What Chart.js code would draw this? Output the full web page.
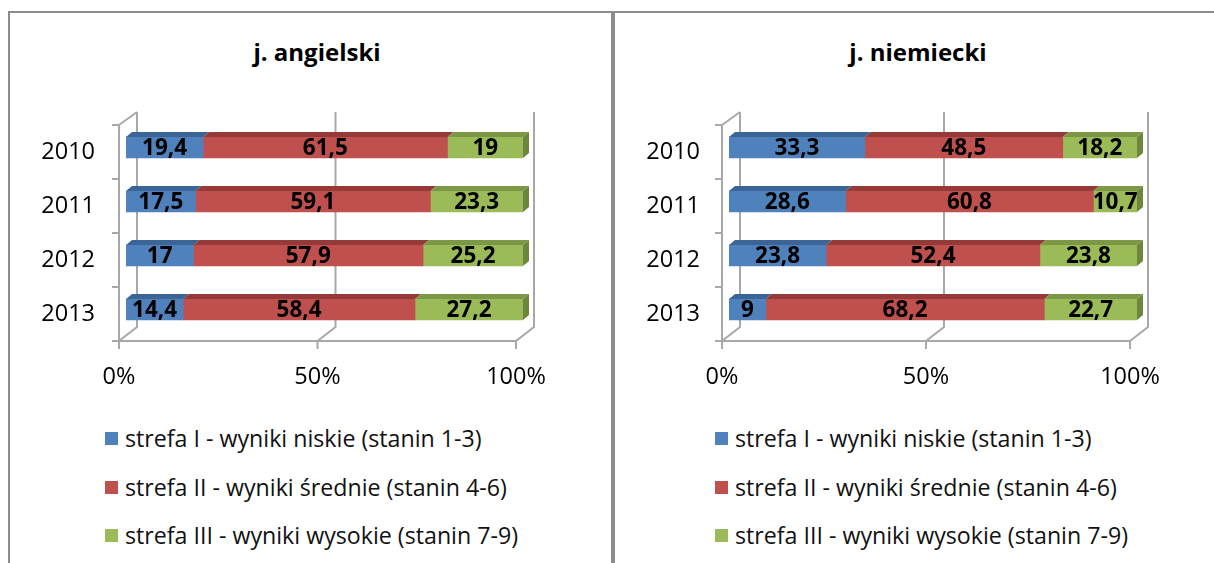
<!DOCTYPE html>
<html>
<head>
<meta charset="utf-8">
<script src="https://cdn.jsdelivr.net/npm/chart.js@4.4.1/dist/chart.umd.min.js"></script>
<style>
  body { margin: 0; background: #fff; width: 1214px; height: 563px; overflow: hidden; position: relative; font-family: "Open Sans", sans-serif; color: #000; }
  .frame { position: absolute; top: 11px; height: 600px; border-top: 2px solid #8c8c8c; border-left: 2px solid #8c8c8c; }
  #frame1 { left: 8px; width: 601px; border-right: 2px solid #8c8c8c; }
  #frame2 { left: 613px; width: 700px; }
  .title { position: absolute; top: 36px; font-weight: bold; font-size: 24px; line-height: 32px; transform: translateX(-50%); white-space: nowrap; }
  canvas { position: absolute; top: 70px; }
  .legend { position: absolute; top: 422px; }
  .legend div { height: 48.5px; display: flex; align-items: flex-start; font-size: 23.2px; line-height: 32px; white-space: nowrap; color: #111; }
  .legend span.box { display: inline-block; width: 13px; height: 13px; margin: 10px 7px 0 0; }
</style>
</head>
<body>
<div class="frame" id="frame1"></div>
<div class="frame" id="frame2"></div>
<div class="title" style="left:317px">j. angielski</div>
<div class="title" style="left:918px">j. niemiecki</div>
<canvas id="c1" width="595" height="330" style="left:11px"></canvas>
<canvas id="c2" width="595" height="330" style="left:615px"></canvas>
<div class="legend" id="leg1" style="left:105px"></div>
<div class="legend" id="leg2" style="left:715px"></div>
<script>
const years = ['2010', '2011', '2012', '2013'];
const seriesNames = [
  'strefa I - wyniki niskie (stanin 1-3)',
  'strefa II - wyniki średnie (stanin 4-6)',
  'strefa III - wyniki wysokie (stanin 7-9)'
];
// j. angielski
const engLow = [19.4, 17.5, 17, 14.4];
const engMid = [61.5, 59.1, 57.9, 58.4];
const engHigh = [19, 23.3, 25.2, 27.2];
// j. niemiecki
const gerLow = [33.3, 28.6, 23.8, 9];
const gerMid = [48.5, 60.8, 52.4, 68.2];
const gerHigh = [18.2, 10.7, 23.8, 22.7];
const xTicks = [0, 50, 100];

const frontColors = ['#4f81bd', '#c0504d', '#9bbb59'];
const topColors = ['#3c6597', '#943b39', '#7c9847'];
const sideColors = ['#35598a', '#84312f', '#6c873b'];
const depthX = 6, depthY = -5;

// draws the 3d walls behind and the bar tops, sides and value labels on top
const bar3d = {
  id: 'bar3d',
  beforeDatasetsDraw(chart) {
    const { ctx, chartArea: a, scales: { x } } = chart;
    const fT = a.top + 4.5, fB = a.bottom + 4.5;
    const bT = a.top - 8.5, bB = a.bottom - 9.5;
    const f = v => x.getPixelForValue(v) - 7;
    const b = v => x.getPixelForValue(v) + 11;
    ctx.save();
    ctx.strokeStyle = '#a8a8a8';
    ctx.lineWidth = 2;
    ctx.beginPath();
    // left wall
    ctx.moveTo(f(0), fT); ctx.lineTo(f(0), fB);
    ctx.moveTo(f(0), fT); ctx.lineTo(b(0), bT);
    for (let k = 0; k <= years.length; k++) {
      const yy = fT + k * (fB - fT) / years.length;
      ctx.moveTo(f(0) - 7, yy); ctx.lineTo(f(0), yy);
    }
    // floor and back gridlines
    ctx.moveTo(f(0) - 7, fB); ctx.lineTo(f(100), fB);
    xTicks.forEach(v => {
      ctx.moveTo(b(v), bT); ctx.lineTo(b(v), bB); ctx.lineTo(f(v), fB); ctx.lineTo(f(v), fB + 8);
    });
    ctx.stroke();
    ctx.restore();
  },
  afterDatasetsDraw(chart) {
    const { ctx } = chart;
    const last = chart.data.datasets.length - 1;
    ctx.save();
    chart.data.datasets.forEach((ds, di) => {
      chart.getDatasetMeta(di).data.forEach(el => {
        const { x, y, base, height } = el.getProps(['x', 'y', 'base', 'height'], true);
        const y0 = y - height / 2;
        ctx.fillStyle = topColors[di];
        ctx.beginPath();
        ctx.moveTo(base, y0); ctx.lineTo(x, y0);
        ctx.lineTo(x + depthX, y0 + depthY); ctx.lineTo(base + depthX, y0 + depthY);
        ctx.closePath(); ctx.fill();
        if (di === last) {
          ctx.fillStyle = sideColors[di];
          ctx.beginPath();
          ctx.moveTo(x, y0); ctx.lineTo(x + depthX, y0 + depthY);
          ctx.lineTo(x + depthX, y0 + height + depthY); ctx.lineTo(x, y0 + height);
          ctx.closePath(); ctx.fill();
        }
      });
    });
    ctx.fillStyle = '#000';
    ctx.font = 'bold 22.5px "Open Sans"';
    ctx.textAlign = 'center';
    ctx.textBaseline = 'middle';
    chart.data.datasets.forEach((ds, di) => {
      chart.getDatasetMeta(di).data.forEach((el, i) => {
        const { x, y, base } = el.getProps(['x', 'y', 'base'], true);
        ctx.fillText(String(ds.raw[i]).replace('.', ','), (base + x) / 2, y + 1);
      });
    });
    ctx.restore();
  }
};

function makeChart(id, low, mid, high, areaLeft, labelPad, rightPad) {
  const parts = [low, mid, high];
  const totals = years.map((_, i) => low[i] + mid[i] + high[i]);
  return new Chart(document.getElementById(id), {
    type: 'bar',
    data: {
      labels: years,
      datasets: parts.map((vals, di) => ({
        label: seriesNames[di],
        data: vals.map((v, i) => v / totals[i] * 100),
        raw: vals,
        backgroundColor: frontColors[di],
        borderWidth: 0,
        barThickness: 21
      }))
    },
    options: {
      indexAxis: 'y',
      responsive: false,
      animation: false,
      layout: { padding: { top: 50.5, right: rightPad, bottom: 0, left: 0 } },
      plugins: { legend: { display: false }, title: { display: false }, tooltip: { enabled: false } },
      scales: {
        x: {
          stacked: true,
          min: 0,
          max: 100,
          afterBuildTicks: s => { s.ticks = xTicks.map(v => ({ value: v })); },
          afterFit: s => { s.height = 63.5; },
          grid: { display: false, drawTicks: false },
          border: { display: false },
          ticks: {
            padding: 27,
            labelOffset: -7,
            color: '#000',
            font: { family: 'Open Sans', size: 23.5 },
            callback: v => v + '%'
          }
        },
        y: {
          stacked: true,
          afterFit: s => { s.width = areaLeft; },
          grid: { display: false, drawTicks: false },
          border: { display: false },
          ticks: {
            padding: labelPad,
            labelOffset: 5,
            color: '#000',
            font: { family: 'Open Sans', size: 23.5 }
          }
        }
      }
    },
    plugins: [bar3d]
  });
}

function makeLegend(id) {
  const el = document.getElementById(id);
  seriesNames.forEach((name, i) => {
    const row = document.createElement('div');
    const box = document.createElement('span');
    box.className = 'box';
    box.style.background = frontColors[i];
    row.appendChild(box);
    row.appendChild(document.createTextNode(name));
    el.appendChild(row);
  });
}

makeChart('c1', engLow, engMid, engHigh, 115, 31, 83);
makeChart('c2', gerLow, gerMid, gerHigh, 114, 29, 73);
makeLegend('leg1');
makeLegend('leg2');
</script>
</body>
</html>
